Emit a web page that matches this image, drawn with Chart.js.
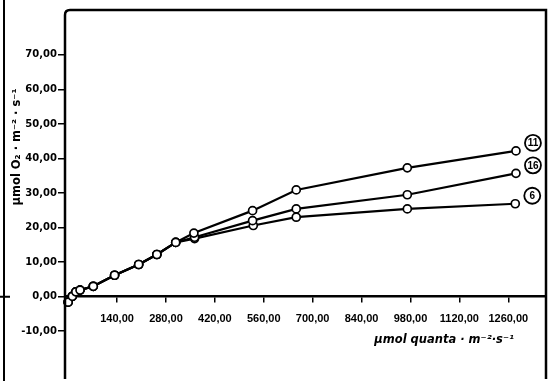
<!DOCTYPE html>
<html>
<head>
<meta charset="utf-8">
<script src="https://cdn.jsdelivr.net/npm/chart.js@4"></script>
<style>
  html, body { margin: 0; padding: 0; background: #fff; }
  canvas { display: block; }
</style>
</head>
<body>
<canvas id="chart" width="554" height="381"></canvas>
<script>
// light (µmol quanta m-2 s-1) and O2 evolution per curve
const light11 = [0, 12, 22, 34, 72, 133, 202, 254, 308, 360, 528, 653, 971, 1282];
const o2_11   = [-1.6, 0.1, 1.4, 1.9, 3.0, 6.2, 9.3, 12.2, 15.7, 18.4, 24.9, 30.9, 37.3, 42.2];
const light16 = [0, 12, 22, 34, 72, 133, 202, 254, 308, 362, 528, 653, 971, 1282];
const o2_16   = [-1.6, 0.1, 1.4, 1.9, 3.0, 6.2, 9.3, 12.2, 15.7, 17.2, 22.0, 25.4, 29.5, 35.7];
const light6  = [0, 12, 22, 34, 72, 133, 202, 254, 308, 362, 530, 653, 971, 1280];
const o2_6    = [-1.6, 0.1, 1.4, 1.9, 3.0, 6.2, 9.3, 12.2, 15.7, 16.8, 20.6, 23.0, 25.4, 26.9];
const curveNames = ['11', '16', '6'];

const xTicks = [140, 280, 420, 560, 700, 840, 980, 1120, 1260];
const yTicks = [-10, 0, 10, 20, 30, 40, 50, 60, 70];

const fmt = v => v.toFixed(2).replace('.', ',');
const toPoints = (xs, ys) => xs.map((x, i) => ({ x: x, y: ys[i] }));

const series = [
    toPoints(light11, o2_11),
    toPoints(light16, o2_16),
    toPoints(light6, o2_6),
];

const dataset = (pts, name) => ({
    label: name,
    data: pts,
    showLine: true,
    borderColor: '#000',
    borderWidth: 2.2,
    pointRadius: 4,
    pointBorderWidth: 1.7,
    pointBackgroundColor: '#fff',
    pointBorderColor: '#000',
    clip: false,
});

const decor = {
    id: 'decor',
    afterDraw(chart) {
        const ctx = chart.ctx;
        const a = chart.chartArea;
        const zeroY = chart.scales.y.getPixelForValue(0);
        ctx.save();
        ctx.strokeStyle = '#000';
        ctx.fillStyle = '#000';

        // frame
        ctx.lineWidth = 2.5;
        ctx.beginPath();
        ctx.moveTo(a.left, a.bottom + 5);
        ctx.lineTo(a.left, a.top + 5);
        ctx.quadraticCurveTo(a.left, a.top, a.left + 5, a.top);
        ctx.lineTo(a.right, a.top);
        ctx.lineTo(a.right, a.bottom + 5);
        ctx.stroke();

        // page edge of the scan
        ctx.lineWidth = 2;
        ctx.beginPath();
        ctx.moveTo(4, 0);
        ctx.lineTo(4, chart.height);
        ctx.moveTo(0, zeroY);
        ctx.lineTo(10, zeroY);
        ctx.stroke();

        // y title
        ctx.save();
        ctx.translate(17, 147);
        ctx.rotate(-Math.PI / 2);
        ctx.font = 'bold 11.5px "DejaVu Sans"';
        ctx.textAlign = 'center';
        ctx.textBaseline = 'middle';
        ctx.fillText('µmol O₂ · m⁻² · s⁻¹', 0, 0);
        ctx.restore();

        // x title
        ctx.font = 'italic bold 11.5px "DejaVu Sans"';
        ctx.textAlign = 'right';
        ctx.textBaseline = 'alphabetic';
        ctx.fillText('µmol quanta · m⁻²·s⁻¹', 514, 343);

        // circled curve numbers next to the last point
        ctx.textAlign = 'center';
        ctx.textBaseline = 'middle';
        chart.data.datasets.forEach((ds, i) => {
            const meta = chart.getDatasetMeta(i);
            const last = meta.data[meta.data.length - 1];
            const cx = last.x + 17;
            const cy = last.y - 8;
            ctx.lineWidth = 1.8;
            ctx.beginPath();
            ctx.arc(cx, cy, 8, 0, Math.PI * 2);
            ctx.stroke();
            ctx.font = 'bold 10px "Liberation Sans"';
            ctx.fillText(ds.label, cx, cy + 0.5);
        });
        ctx.restore();
    }
};

new Chart(document.getElementById('chart'), {
    type: 'scatter',
    data: {
        datasets: series.map((pts, i) => dataset(pts, curveNames[i])),
    },
    options: {
        responsive: false,
        animation: false,
        devicePixelRatio: 1,
        layout: { padding: { top: 10, right: 8, bottom: 0, left: 0 } },
        plugins: {
            legend: { display: false },
            tooltip: { enabled: false },
        },
        scales: {
            x: {
                type: 'linear',
                position: { y: 0 },
                min: -9,
                max: 1368,
                afterBuildTicks: s => { s.ticks = xTicks.map(v => ({ value: v })); },
                ticks: {
                    callback: v => fmt(v),
                    color: '#000',
                    font: { family: 'Liberation Sans', weight: 'bold', size: 11 },
                    padding: 11,
                    maxRotation: 0,
                    autoSkip: false,
                },
                grid: { drawOnChartArea: false, drawTicks: true, tickLength: 5, color: '#000', lineWidth: 1.5 },
                border: { display: true, color: '#000', width: 2.5 },
            },
            y: {
                type: 'linear',
                min: -22.4,
                max: 83,
                afterFit: s => { s.width = 65; },
                afterBuildTicks: s => { s.ticks = yTicks.map(v => ({ value: v })); },
                ticks: {
                    callback: v => fmt(v),
                    color: '#000',
                    font: { family: 'DejaVu Sans', weight: 'bold', size: 10 },
                    padding: 1,
                    autoSkip: false,
                },
                grid: { drawOnChartArea: false, drawTicks: true, tickLength: 7, color: '#000', lineWidth: 1.5 },
                border: { display: false },
            },
        },
    },
    plugins: [decor],
});
</script>
</body>
</html>
